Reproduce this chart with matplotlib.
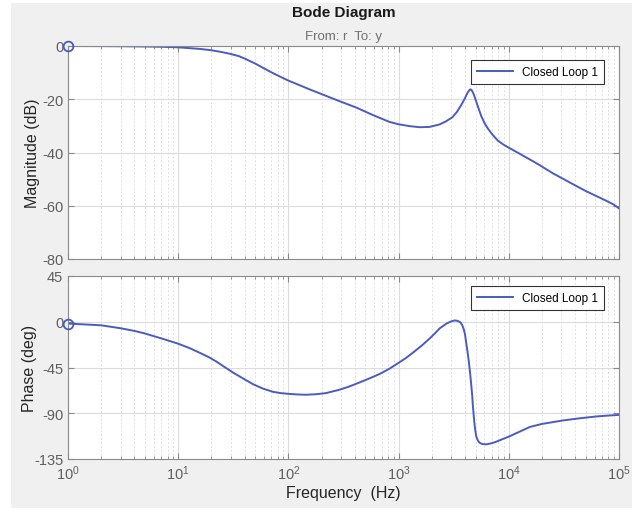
import matplotlib
matplotlib.use("Agg")
import matplotlib.pyplot as plt
from matplotlib.patches import Rectangle
from matplotlib.ticker import LogLocator, NullFormatter

plt.rcParams['font.family'] = ['Liberation Sans', 'DejaVu Sans']
plt.rcParams['mathtext.default'] = 'regular'
plt.rcParams['axes.unicode_minus'] = False

# magnitude response (Hz, dB)
freq_mag = [1, 2, 3.2, 5, 7.1, 10, 12.6, 15.8, 20, 25, 30, 35.5, 40, 50, 60,
            71, 85, 100, 126, 158, 204, 282, 412, 589, 826, 1000, 1260, 1550,
            1900, 2340, 2690, 3090, 3390, 3720, 3980, 4220, 4420, 4520, 4620,
            4790, 5010, 5250, 5620, 6030, 6460, 7080, 7940, 8910, 10000, 12600,
            15800, 18800, 25100, 37800, 50100, 75500, 89100, 100000]
mag_db = [0, -0.05, -0.1, -0.2, -0.3, -0.5, -0.8, -1.1, -1.6, -2.3, -3.0, -3.8,
          -4.7, -6.6, -8.4, -10.0, -11.6, -13.0, -14.7, -16.4, -18.2, -20.5,
          -23.1, -26.0, -28.5, -29.4, -30.1, -30.5, -30.4, -29.5, -28.3, -26.7,
          -24.7, -22.0, -19.8, -17.6, -16.4, -16.3, -16.7, -18.0, -20.3, -22.8,
          -26.3, -29.0, -31.0, -33.2, -35.5, -37.0, -38.2, -40.5, -42.8, -44.6,
          -47.8, -51.8, -54.5, -58.0, -59.5, -61.0]

# phase response (Hz, deg)
freq_ph = [1, 2, 3, 4, 4.9, 6.9, 8.3, 10, 12.6, 15.8, 19.1, 22.4, 26.3, 31.6,
           39.8, 47.9, 58.9, 72.4, 85.1, 100, 120, 145, 178, 219, 288, 355, 447,
           550, 681, 832, 1000, 1175, 1360, 1620, 1930, 2140, 2360, 2720, 2990,
           3230, 3430, 3630, 3760, 3890, 4000, 4110, 4230, 4350, 4470, 4570,
           4660, 4720, 4810, 4900, 4980, 5070, 5250, 5430, 5750, 6240, 6920,
           7690, 8710, 10000, 12600, 15500, 20000, 30900, 43700, 61700, 79400,
           100000]
phase_deg = [-1.8, -3.5, -6.4, -9.0, -11.3, -16.1, -18.8, -21.6, -25.8, -30.7,
             -35.0, -39.4, -44.5, -50.1, -56.5, -61.5, -65.8, -68.9, -70.2,
             -70.9, -71.5, -71.8, -71.3, -70.2, -67.0, -63.8, -59.5, -55.5,
             -51.1, -46.0, -40.4, -35.4, -30.1, -23.5, -16.1, -11.3, -6.5,
             -1.8, 0.3, 1.3, 0.9, -0.5, -2.8, -7.0, -12.0, -21.0, -30.0, -40.4,
             -52.0, -63.0, -73.0, -82.6, -93.0, -102.0, -108.0, -113.0, -117.0,
             -119.0, -120.3, -120.6, -119.6, -118.0, -115.6, -113.0, -108.0,
             -103.5, -100.5, -97.1, -95.0, -93.2, -92.3, -91.6]

legend_label = 'Closed Loop 1'
line_color = '#4a5bc2'
tick_grey = '#5f5f5f'

fig = plt.figure(figsize=(6.4, 5.1), dpi=100, facecolor='white')
fig.patches.append(Rectangle((11 / 640, 1 - 509 / 510), 621 / 640, 505 / 510,
                             transform=fig.transFigure, facecolor='#f0f0f0',
                             edgecolor='none', zorder=-10))

ax1 = fig.add_axes([68 / 640, 1 - 260 / 510, 551 / 640, 213 / 510])
ax2 = fig.add_axes([68 / 640, 1 - 460 / 510, 551 / 640, 183 / 510])

ax1.semilogx(freq_mag, mag_db, color=line_color, lw=1.4, label=legend_label)
ax1.plot(freq_mag[:1], mag_db[:1], 'o', mfc='none', mec=line_color, ms=7,
         mew=1.3, clip_on=False, zorder=5)
ax2.semilogx(freq_ph, phase_deg, color=line_color, lw=1.4, label=legend_label)
ax2.plot(freq_ph[:1], phase_deg[:1], 'o', mfc='none', mec=line_color, ms=7,
         mew=1.3, clip_on=False, zorder=5)

ax1.set_ylim(-80, 0)
ax1.set_yticks([0, -20, -40, -60, -80])
ax2.set_ylim(-135, 45)
ax2.set_yticks([45, 0, -45, -90, -135])

for ax, ly in ((ax1, 0.934), (ax2, 0.945)):
    ax.set_xlim(1, 1e5)
    ax.set_facecolor('white')
    ax.xaxis.set_major_locator(LogLocator(base=10, numticks=10))
    ax.xaxis.set_minor_locator(LogLocator(base=10, subs=range(2, 10), numticks=50))
    ax.xaxis.set_minor_formatter(NullFormatter())
    ax.grid(which='major', color='#dcdcdc', linestyle='-', lw=0.8)
    ax.grid(which='minor', axis='x', color='#e0e0e0', linestyle=(0, (2, 2)), lw=0.7)
    ax.set_axisbelow(True)
    for sp in ax.spines.values():
        sp.set_color('#8a8a8a')
    ax.tick_params(which='both', direction='in', top=True, right=True,
                   colors='#8a8a8a', labelcolor=tick_grey, labelsize=10.5)
    ax.tick_params(which='major', length=4)
    ax.tick_params(which='minor', length=2)
    leg = ax.legend(loc='upper right', fontsize=8.5, frameon=True, fancybox=False,
                    handlelength=3.0, borderpad=0.5, borderaxespad=0,
                    bbox_to_anchor=(0.973, ly))
    leg.get_frame().set_edgecolor('black')
    leg.get_frame().set_linewidth(0.8)

ax1.tick_params(labelbottom=False)
ax1.set_ylabel('Magnitude (dB)', fontsize=11.5, color='#262626', labelpad=1)
ax2.set_ylabel('Phase (deg)', fontsize=11.5, color='#262626', labelpad=-2)
ax2.set_xlabel('Frequency  (Hz)', fontsize=11.5, color='#262626', labelpad=2)

cx = (68 + 619) / 2 / 640
fig.text(cx, 1 - 13 / 510, 'Bode Diagram', ha='center', va='center',
         fontsize=11, fontweight='bold', color='#1a1a1a')
fig.text(cx, 1 - 37 / 510, 'From: r  To: y', ha='center', va='center',
         fontsize=9.5, color='#707070')

fig.savefig('out.png', dpi=100, facecolor=fig.get_facecolor())
